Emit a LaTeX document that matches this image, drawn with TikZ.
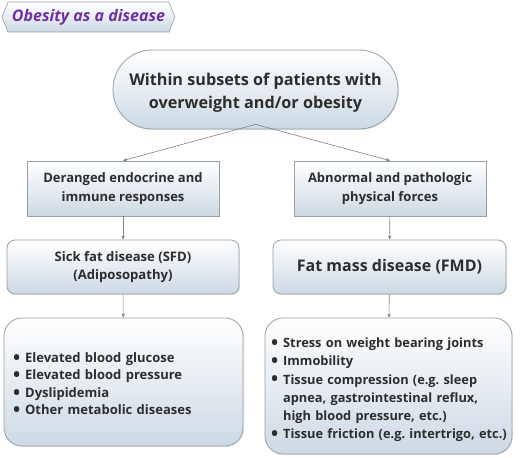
\documentclass[tikz,border=0pt]{standalone}
\usepackage{fontspec}
\setmainfont{Open Sans}
\frenchspacing
\usetikzlibrary{arrows.meta,positioning,shapes.misc,shapes.symbols,shadows}

\definecolor{edgegray}{RGB}{150,160,170}
\definecolor{fillblue}{RGB}{205,217,228}
\definecolor{txtgray}{RGB}{45,45,45}
\definecolor{titlepurple}{RGB}{112,48,160}

\newcommand{\bigdot}{\raisebox{-1.8pt}{\fontsize{19}{0}\selectfont\textbullet}}
% lower a block without changing its reported size
\newcommand{\dropby}[2]{\raisebox{-#1}[\height][\depth]{#2}}

\tikzset{
  basebox/.style={draw=edgegray, line width=0.8pt, top color=white, bottom color=fillblue,
    text=txtgray, font=\bfseries, align=center, inner sep=0pt,
    drop shadow={shadow xshift=1pt, shadow yshift=-1pt, opacity=0.2}},
  squarebox/.style={basebox, minimum width=192pt, minimum height=55pt},
  roundbox/.style={basebox, rounded corners=8pt, minimum width=232pt, minimum height=54pt},
  listbox/.style={basebox, rounded corners=18pt, align=left},
  link/.style={draw=gray, line width=0.6pt, -{Stealth[length=4pt,width=3.5pt]}},
}

\begin{document}
\begin{tikzpicture}[x=1pt,y=1pt,yscale=-1,xscale=1]
\useasboundingbox (0,0) rectangle (520,458);

%Shape: Banner
\node (title) at (88.5,17) [signal, signal to=west and east, signal pointer angle=136,
  draw=edgegray, line width=0.6pt, top color=white, bottom color=fillblue,
  minimum width=173pt, minimum height=30pt, inner sep=0pt,
  text=titlepurple, font=\fontsize{16}{18}\selectfont\bfseries\itshape] {Obesity as a disease};

%Shape: Pill
\node (top) at (255.5,89.5) [basebox, rounded corners=39pt, minimum width=285pt, minimum height=79pt,
  font=\fontsize{16.2}{22.5}\selectfont\bfseries]
  {\dropby{3pt}{\begin{tabular}{@{}c@{}}Within subsets of patients with\\overweight and/or obesity\end{tabular}}};
\coordinate (split) at ([yshift=-5pt]top.south);

%Shape: Square boxes
\node (endo) at (123,188.5) [squarebox, font=\fontsize{13}{18.5}\selectfont\bfseries] {Deranged endocrine and\\immune responses};
\node (force) at (390,188.5) [squarebox, font=\fontsize{13}{18.5}\selectfont\bfseries] {Abnormal and pathologic\\physical forces};

%Shape: Rounded boxes
\node (sfd) at (123,267) [roundbox, font=\fontsize{13.1}{18.5}\selectfont\bfseries] {Sick fat disease (SFD)\\(Adiposopathy)};
\node (fmd) at (389.5,267) [roundbox, minimum width=233pt, font=\fontsize{16}{20}\selectfont\bfseries] {Fat mass disease (FMD)};

%Shape: List boxes
\node (sfdlist) at (123.5,382) [listbox, minimum width=239pt, minimum height=128pt, inner xsep=9pt,
  font=\fontsize{13}{17.5}\selectfont\bfseries, text width=221pt]
  {\dropby{3pt}{\begin{tabular}{@{}l@{\hspace{5pt}}l@{}}
   \bigdot & Elevated blood glucose\\
   \bigdot & Elevated blood pressure\\
   \bigdot & Dyslipidemia\\
   \bigdot & Other metabolic diseases
   \end{tabular}}};
\node (fmdlist) at (388.5,386) [listbox, minimum width=247pt, minimum height=136pt, inner xsep=6pt,
  font=\fontsize{12.8}{18.2}\selectfont\bfseries, text width=235pt]
  {\dropby{3.5pt}{\begin{tabular}{@{}l@{\hspace{5pt}}l@{}}
   \bigdot & Stress on weight bearing joints\\
   \bigdot & Immobility\\
   \bigdot & Tissue compression (e.g. sleep\\
           & apnea, gastrointestinal reflux,\\
           & high blood pressure, etc.)\\
   \bigdot & Tissue friction (e.g. intertrigo, etc.)
   \end{tabular}}};

%Connectors
\draw [link] (split) -- (endo.north);
\draw [link] (split) -- (force.north);
\draw [link] (endo) -- (sfd);
\draw [link] (force) -- (fmd);
\draw [link] (sfd) -- (sfdlist);
\draw [link] (fmd) -- (fmdlist);

\end{tikzpicture}
\end{document}
